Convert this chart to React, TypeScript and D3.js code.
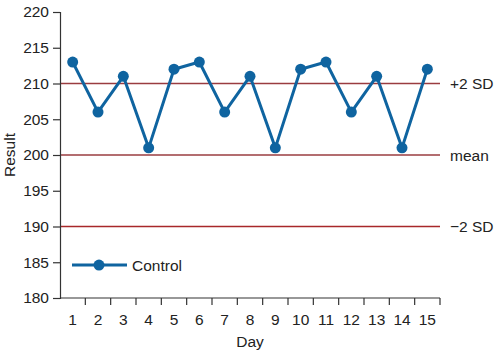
import React, { useEffect, useRef } from "react";
import * as d3 from "d3";

const days = ["1", "2", "3", "4", "5", "6", "7", "8", "9", "10", "11", "12", "13", "14", "15"];
const results = [213, 206, 211, 201, 212, 213, 206, 211, 201, 212, 213, 206, 211, 201, 212];
const refValues = [210, 200, 190];
const refLabels = ["+2 SD", "mean", "\u22122 SD"];
const yTicks = [180, 185, 190, 195, 200, 205, 210, 215, 220];

const App = () => {
  const svgRef = useRef<SVGSVGElement>(null);

  useEffect(() => {
    const width = 500;
    const height = 353;
    const margin = { top: 12, right: 60, bottom: 55, left: 60 };
    const font = "'Liberation Sans', Arial, sans-serif";
    const fs = 15.5;
    const blue = "#0f64a0";

    const svg = d3.select(svgRef.current).attr("width", width).attr("height", height);
    svg.selectAll("*").remove();

    const x = d3
      .scaleBand()
      .domain(days)
      .range([margin.left, width - margin.right]);
    const y = d3
      .scaleLinear()
      .domain([180, 220])
      .range([height - margin.bottom, margin.top]);

    // reference lines
    svg
      .selectAll("line.ref")
      .data(refValues)
      .enter()
      .append("line")
      .attr("x1", margin.left)
      .attr("x2", width - margin.right)
      .attr("y1", (d) => y(d))
      .attr("y2", (d) => y(d))
      .attr("stroke", (d, i) => (i === 2 ? "#a8282a" : "#9a3c40"))
      .attr("stroke-width", 1.5);

    svg
      .selectAll("text.ref")
      .data(refValues)
      .enter()
      .append("text")
      .attr("x", width - margin.right + 10)
      .attr("y", (d) => y(d) + 5.5)
      .attr("font-family", font)
      .attr("font-size", fs)
      .attr("fill", "#222")
      .text((d, i) => refLabels[i]);

    // y axis
    const yAxis = svg
      .append("g")
      .attr("transform", `translate(${margin.left},0)`)
      .call(d3.axisLeft(y).tickValues(yTicks).tickSize(7).tickPadding(4));
    yAxis.select(".domain").attr("stroke", "#333").attr("stroke-width", 1.2);
    yAxis.selectAll(".tick line").attr("stroke", "#333").attr("stroke-width", 1.2);
    yAxis
      .selectAll(".tick text")
      .attr("font-family", font)
      .attr("font-size", fs)
      .attr("fill", "#222");

    // x axis, ticks at band edges
    const xAxis = svg
      .append("g")
      .attr("transform", `translate(0,${height - margin.bottom})`);
    xAxis
      .append("line")
      .attr("x1", margin.left)
      .attr("x2", width - margin.right)
      .attr("stroke", "#333")
      .attr("stroke-width", 1.2);
    xAxis
      .selectAll("line.tick")
      .data(days)
      .enter()
      .append("line")
      .attr("x1", (d) => (x(d) as number) + x.bandwidth())
      .attr("x2", (d) => (x(d) as number) + x.bandwidth())
      .attr("y1", 0)
      .attr("y2", 7)
      .attr("stroke", "#333")
      .attr("stroke-width", 1.2);
    xAxis
      .selectAll("text")
      .data(days)
      .enter()
      .append("text")
      .attr("x", (d) => (x(d) as number) + x.bandwidth() / 2)
      .attr("y", 27)
      .attr("text-anchor", "middle")
      .attr("font-family", font)
      .attr("font-size", fs)
      .attr("fill", "#222")
      .text((d) => d);

    // axis titles
    svg
      .append("text")
      .attr("x", (margin.left + width - margin.right) / 2)
      .attr("y", 347)
      .attr("text-anchor", "middle")
      .attr("font-family", font)
      .attr("font-size", fs)
      .attr("fill", "#222")
      .text("Day");
    svg
      .append("text")
      .attr("transform", `translate(15,${(margin.top + height - margin.bottom) / 2}) rotate(-90)`)
      .attr("text-anchor", "middle")
      .attr("font-family", font)
      .attr("font-size", fs)
      .attr("fill", "#222")
      .text("Result");

    // series
    const cx = (i: number) => (x(days[i]) as number) + x.bandwidth() / 2;
    const line = d3
      .line<number>()
      .x((d, i) => cx(i))
      .y((d) => y(d));
    svg
      .append("path")
      .datum(results)
      .attr("d", line)
      .attr("fill", "none")
      .attr("stroke", blue)
      .attr("stroke-width", 3)
      .attr("stroke-linejoin", "round");
    svg
      .selectAll("circle.pt")
      .data(results)
      .enter()
      .append("circle")
      .attr("cx", (d, i) => cx(i))
      .attr("cy", (d) => y(d))
      .attr("r", 5.5)
      .attr("fill", blue);

    // legend
    const lg = svg.append("g").attr("transform", `translate(72,${y(184.6)})`);
    lg.append("line").attr("x1", 0).attr("x2", 55).attr("stroke", blue).attr("stroke-width", 3);
    lg.append("circle").attr("cx", 27).attr("r", 5.5).attr("fill", blue);
    lg.append("text")
      .attr("x", 60)
      .attr("y", 5.5)
      .attr("font-family", font)
      .attr("font-size", fs)
      .attr("fill", "#222")
      .text("Control");
  }, []);

  return (
    <svg
      ref={svgRef}
      style={{ position: "absolute", left: 0, top: 0 }}
    ></svg>
  );
};

export default App;
